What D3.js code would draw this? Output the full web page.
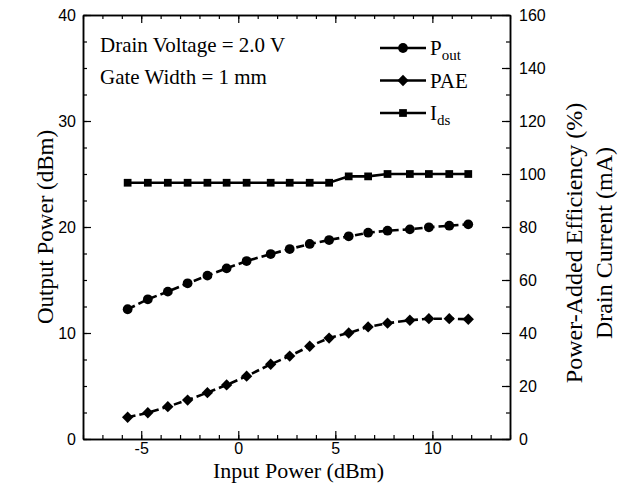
<!DOCTYPE html>
<html>
<head>
<meta charset="utf-8">
<script src="https://cdn.jsdelivr.net/npm/d3@7"></script>
<style>
  body { margin: 0; background: #fff; }
  svg { display: block; }
  .tick text { font-family: "Liberation Sans", Arial, sans-serif; }
</style>
</head>
<body>
<svg id="chart" width="626" height="495"></svg>
<script>
// input power (dBm)
const inputPower = [-5.7, -4.66, -3.63, -2.61, -1.59, -0.6, 0.43, 1.67, 2.65, 3.68, 4.68, 5.69, 6.69, 7.69, 8.84, 9.82, 10.87, 11.85];
// output power (dBm)
const pout = [12.24, 13.18, 13.9, 14.69, 15.41, 16.1, 16.79, 17.45, 17.92, 18.4, 18.77, 19.12, 19.46, 19.65, 19.78, 19.97, 20.12, 20.25];
// power-added efficiency (%)
const pae = [8.2, 9.9, 12.2, 14.7, 17.5, 20.4, 23.7, 28.2, 31.3, 35.0, 38.1, 40.0, 42.3, 43.7, 44.8, 45.4, 45.4, 45.2];
// drain current (mA)
const ids = [96.7, 96.7, 96.7, 96.7, 96.7, 96.7, 96.7, 96.7, 96.7, 96.7, 96.7, 99.1, 99.1, 100, 100, 100, 100, 100];

const xTicks = [-5, 0, 5, 10];
const yLeftTicks = [0, 10, 20, 30, 40];
const yRightTicks = [0, 20, 40, 60, 80, 100, 120, 140, 160];

const legendItems = [
    { label: "P", sub: "out", shape: "circle" },
    { label: "PAE", sub: "", shape: "diamond" },
    { label: "I", sub: "ds", shape: "square" }
];

const margin = { left: 83, right: 116, top: 15, bottom: 56 };
const width = 626, height = 495;

const svg = d3.select("#chart");

const x = d3.scaleLinear().domain([-8, 14]).range([margin.left, width - margin.right]);
const yL = d3.scaleLinear().domain([0, 40]).range([height - margin.bottom, margin.top]);
const yR = d3.scaleLinear().domain([0, 160]).range([height - margin.bottom, margin.top]);

const x0 = margin.left, x1 = width - margin.right;
const y0 = height - margin.bottom, y1 = margin.top;

const plain = d => String(d); // hyphen minus like the original

// axes (ticks pointing inward)
function styleAxis(g) {
    g.select(".domain").attr("stroke", "#000").attr("stroke-width", 1.5);
    g.selectAll(".tick line").attr("stroke", "#000").attr("stroke-width", 1.2);
    g.selectAll(".tick text").attr("font-size", 16).attr("fill", "#000");
}

// minor ticks first
svg.append("g").attr("transform", `translate(0,${y0})`)
    .call(d3.axisBottom(x).tickValues(d3.range(-8, 15, 1)).tickSize(-4).tickFormat("").tickSizeOuter(0))
    .call(styleAxis);
svg.append("g").attr("transform", `translate(0,${y1})`)
    .call(d3.axisTop(x).tickValues(d3.range(-8, 15, 1)).tickSize(-4).tickFormat("").tickSizeOuter(0))
    .call(styleAxis);
svg.append("g").attr("transform", `translate(${x0},0)`)
    .call(d3.axisLeft(yL).tickValues(d3.range(0, 41, 2.5)).tickSize(-4).tickFormat("").tickSizeOuter(0))
    .call(styleAxis);
svg.append("g").attr("transform", `translate(${x1},0)`)
    .call(d3.axisRight(yR).tickValues(d3.range(0, 161, 10)).tickSize(-4).tickFormat("").tickSizeOuter(0))
    .call(styleAxis);

// major ticks with labels
svg.append("g").attr("transform", `translate(0,${y0})`)
    .call(d3.axisBottom(x).tickValues(xTicks).tickSize(-8).tickPadding(4).tickFormat(plain).tickSizeOuter(0))
    .call(styleAxis);
svg.append("g").attr("transform", `translate(0,${y1})`)
    .call(d3.axisTop(x).tickValues(xTicks).tickSize(-8).tickFormat("").tickSizeOuter(0))
    .call(styleAxis);
svg.append("g").attr("transform", `translate(${x0},0)`)
    .call(d3.axisLeft(yL).tickValues(yLeftTicks).tickSize(-8).tickPadding(7).tickFormat(plain).tickSizeOuter(0))
    .call(styleAxis);
svg.append("g").attr("transform", `translate(${x1},0)`)
    .call(d3.axisRight(yR).tickValues(yRightTicks).tickSize(-8).tickPadding(9).tickFormat(plain).tickSizeOuter(0))
    .call(styleAxis);

// axis titles
const serif = "'Liberation Serif', 'Times New Roman', serif";
svg.append("text")
    .attr("x", (x0 + x1) / 2 + 2).attr("y", 478)
    .attr("text-anchor", "middle")
    .style("font-family", serif).style("font-size", "22px")
    .text("Input Power (dBm)");
svg.append("text")
    .attr("transform", `translate(53,${(y0 + y1) / 2}) rotate(-90)`)
    .attr("text-anchor", "middle")
    .style("font-family", serif).style("font-size", "23px")
    .text("Output Power (dBm)");
svg.append("text")
    .attr("transform", `translate(582,${(y0 + y1) / 2 + 16}) rotate(-90)`)
    .attr("text-anchor", "middle")
    .style("font-family", serif).style("font-size", "24px")
    .text("Power-Added Efficiency (%)");
svg.append("text")
    .attr("transform", `translate(612,${(y0 + y1) / 2 + 16}) rotate(-90)`)
    .attr("text-anchor", "middle")
    .style("font-family", serif).style("font-size", "24px")
    .text("Drain Current (mA)");

// marker symbols
const symbols = {
    circle: d3.symbol().type(d3.symbolCircle).size(75),
    diamond: d3.symbol().type(d3.symbolSquare).size(64),
    square: d3.symbol().type(d3.symbolSquare).size(60)
};
function drawMarker(g, shape, cx, cy) {
    g.append("path")
        .attr("d", symbols[shape]())
        .attr("transform", `translate(${cx},${cy})` + (shape === "diamond" ? " rotate(45)" : ""))
        .attr("fill", "#000");
}

// series
const series = [
    { values: pout, scale: yL, shape: "circle", dashed: true },
    { values: pae, scale: yR, shape: "diamond", dashed: true },
    { values: ids, scale: yR, shape: "square", dashed: false }
];

series.forEach(s => {
    const pts = inputPower.map((v, i) => [x(v), s.scale(s.values[i])]);
    svg.append("path")
        .attr("d", d3.line()(pts))
        .attr("fill", "none")
        .attr("stroke", "#000")
        .attr("stroke-width", 2.6)
        .attr("stroke-dasharray", s.dashed ? "8,4" : null);
    const g = svg.append("g");
    pts.forEach(p => drawMarker(g, s.shape, p[0], p[1]));
});

// annotations
svg.append("text").attr("x", 100).attr("y", 52)
    .style("font-family", serif).style("font-size", "21px")
    .text("Drain Voltage = 2.0 V");
svg.append("text").attr("x", 100).attr("y", 84)
    .style("font-family", serif).style("font-size", "21px")
    .text("Gate Width = 1 mm");

// legend
const legend = svg.append("g");
legendItems.forEach((d, i) => {
    const ly = 48 + i * 32.5;
    legend.append("line")
        .attr("x1", 380).attr("x2", 426)
        .attr("y1", ly).attr("y2", ly)
        .attr("stroke", "#000").attr("stroke-width", 2.6);
    drawMarker(legend, d.shape, 403, ly);
    const t = legend.append("text")
        .attr("x", 430).attr("y", ly + 7)
        .style("font-family", serif).style("font-size", "21px")
        .text(d.label);
    if (d.sub) {
        t.append("tspan").attr("dy", 5).style("font-size", "15px").text(d.sub);
    }
});
</script>
</body>
</html>
